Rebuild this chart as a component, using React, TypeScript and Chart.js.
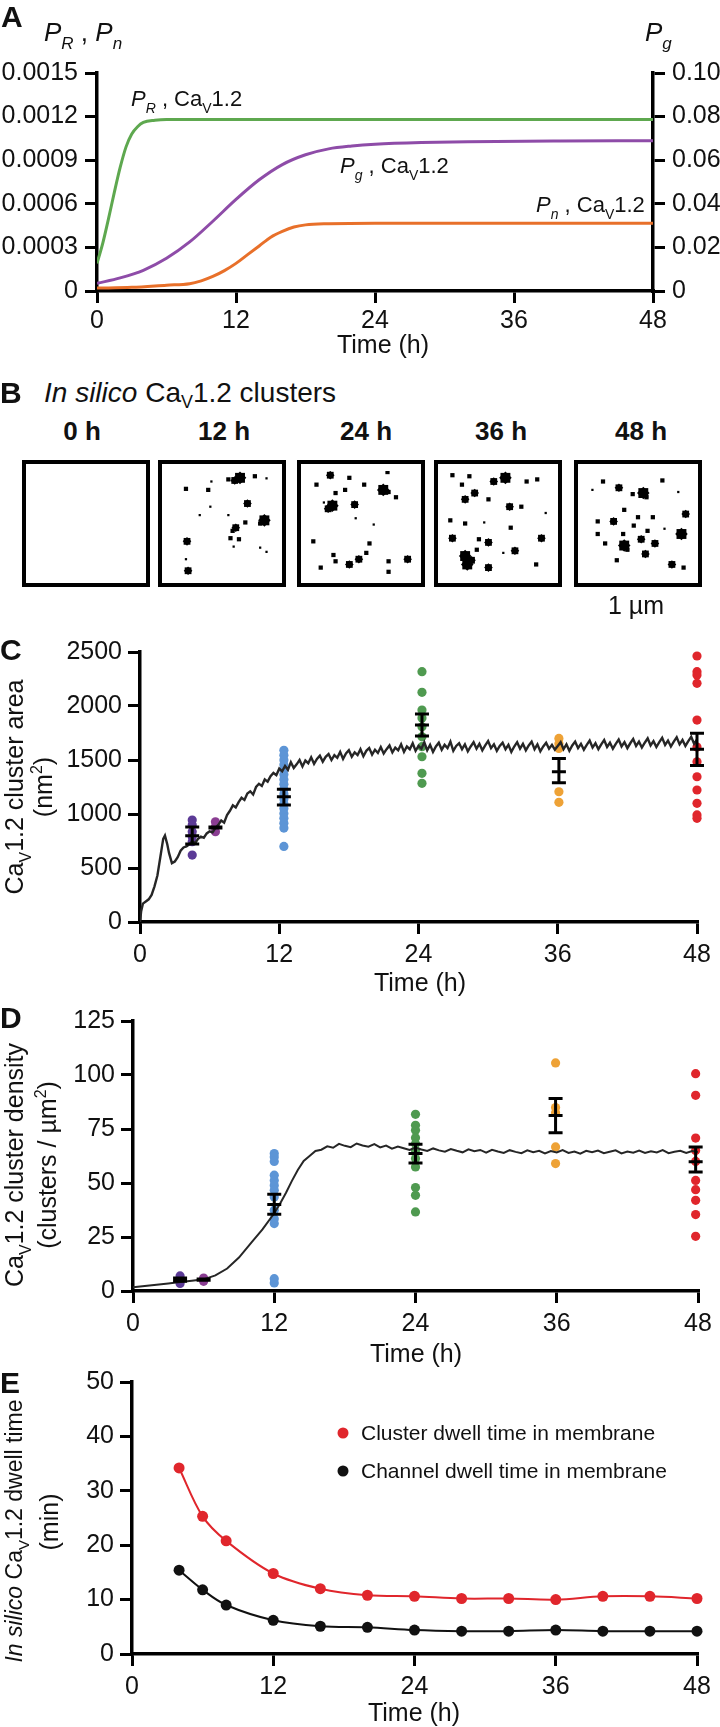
import React, { useEffect, useRef } from "react";
import { Chart, registerables } from "chart.js";
Chart.register(...registerables);

const FONT = "'Liberation Sans', Arial, Helvetica, sans-serif";
const INK = "#111";
Chart.defaults.font.family = FONT;
Chart.defaults.color = INK;

// ---------------- Panel A ----------------
const hourTicks = [0, 12, 24, 36, 48];
const aTicksLeft = [0, 0.0003, 0.0006, 0.0009, 0.0012, 0.0015];
const aTicksRight = [0, 0.02, 0.04, 0.06, 0.08, 0.1];
const aTimeR = [0, 0.5, 1, 1.5, 2, 2.5, 3, 3.5, 4, 5, 6, 8, 12, 24, 36, 48];
const aPR = [0.00019, 0.00033, 0.0005, 0.00068, 0.00085, 0.00099, 0.00108, 0.00113, 0.00116, 0.001175, 0.00118, 0.00118, 0.00118, 0.00118, 0.00118, 0.00118];
const aTimeG = [0, 2, 4, 6, 8, 10, 12, 14, 16, 18, 20, 22, 24, 28, 32, 40, 48];
const aPG = [0.0035, 0.006, 0.0095, 0.015, 0.0225, 0.032, 0.042, 0.051, 0.058, 0.0625, 0.0652, 0.0665, 0.0673, 0.0681, 0.0685, 0.0688, 0.0689];
const aTimeN = [0, 3, 6, 8, 9, 10, 11, 12, 13, 14, 15, 16, 17, 18, 20, 24, 48];
const aPN = [0.00002, 0.000025, 0.00004, 0.00005, 0.00007, 0.0001, 0.00014, 0.00019, 0.00025, 0.00031, 0.00037, 0.00041, 0.00044, 0.000455, 0.000463, 0.000467, 0.000467];

// ---------------- Panel B (cluster snapshots: [x, y, size class]) ----------------
const bLabels = ["0 h", "12 h", "24 h", "36 h", "48 h"];
const b0: number[][] = [];
const b12 = [[0.67,0.065,4],[0.62,0.09,3],[0.56,0.08,2],[0.81,0.05,2],[0.92,0.07,1],[0.16,0.17,2],[0.37,0.18,2],[0.39,0.34,1],[0.74,0.31,3],[0.9,0.47,4],[0.86,0.5,2],[0.63,0.54,3],[0.6,0.57,2],[0.72,0.49,2],[0.56,0.42,1],[0.29,0.42,1],[0.17,0.67,3],[0.58,0.64,2],[0.66,0.65,2],[0.61,0.72,1],[0.86,0.73,1],[0.92,0.77,1],[0.16,0.84,1],[0.18,0.95,3],[0.4,0.1,1]];
const b24 = [[0.21,0.04,3],[0.39,0.065,2],[0.08,0.13,2],[0.26,0.21,2],[0.35,0.18,2],[0.53,0.13,2],[0.71,0.18,4],[0.76,0.2,2],[0.83,0.25,2],[0.23,0.33,4],[0.19,0.36,3],[0.44,0.32,3],[0.62,0.51,1],[0.05,0.67,2],[0.58,0.69,2],[0.24,0.8,2],[0.26,0.86,2],[0.39,0.89,3],[0.48,0.84,3],[0.55,0.78,2],[0.76,0.86,2],[0.94,0.84,3],[0.76,0.96,2],[0.12,0.92,2],[0.75,0.01,2],[0.45,0.45,1],[0.15,0.3,1]];
const b36 = [[0.57,0.065,4],[0.46,0.1,3],[0.07,0.04,2],[0.23,0.05,2],[0.16,0.13,2],[0.28,0.21,3],[0.19,0.27,3],[0.41,0.27,2],[0.61,0.34,3],[0.72,0.34,2],[0.77,0.1,2],[0.87,0.08,2],[0.05,0.47,2],[0.19,0.5,2],[0.37,0.49,1],[0.62,0.54,2],[0.07,0.64,3],[0.32,0.65,2],[0.41,0.68,3],[0.91,0.64,3],[0.19,0.81,4],[0.21,0.89,4],[0.25,0.85,3],[0.66,0.76,3],[0.41,0.92,3],[0.86,0.89,2],[0.3,0.75,2],[0.55,0.78,1],[0.95,0.4,1]];
const b48 = [[0.32,0.16,3],[0.55,0.21,4],[0.58,0.25,2],[0.45,0.22,2],[0.73,0.09,2],[0.17,0.1,2],[0.07,0.18,1],[0.95,0.41,3],[0.27,0.48,3],[0.12,0.48,2],[0.37,0.37,2],[0.5,0.44,2],[0.64,0.44,2],[0.46,0.52,2],[0.36,0.6,2],[0.59,0.57,2],[0.12,0.6,2],[0.91,0.6,4],[0.37,0.71,4],[0.4,0.75,2],[0.53,0.65,3],[0.66,0.69,3],[0.57,0.79,3],[0.3,0.85,2],[0.82,0.89,3],[0.19,0.69,2],[0.75,0.55,1],[0.93,0.92,2],[0.88,0.2,1]];
const bSets = [b0, b12, b24, b36, b48];

// ---------------- Panel C ----------------
const cTicksY = [0, 500, 1000, 1500, 2000, 2500];
const cTime = [0,0.1,0.25,0.5,0.75,1,1.25,1.5,1.75,2,2.15,2.35,2.5,2.75,3,3.25,3.5,3.75,4,4.25,4.5,4.75,5,5.25,5.5,5.75,6,6.25,6.5,6.75,7,7.25,7.5,7.75,8,8.25,8.5,8.75,9,9.25,9.5,9.75,10,10.25,10.5,10.75,11,11.25,11.5,11.75,12,
  12.25,12.5,12.75,13,13.25,13.5,13.75,14,14.25,14.5,14.75,15,15.25,15.5,15.75,16,16.25,16.5,16.75,17,17.25,17.5,17.75,18,18.25,18.5,18.75,19,19.25,19.5,19.75,20,20.25,20.5,20.75,21,21.25,21.5,21.75,22,22.25,22.5,22.75,23,23.25,23.5,23.75,24,
  24.25,24.5,24.75,25,25.25,25.5,25.75,26,26.25,26.5,26.75,27,27.25,27.5,27.75,28,28.25,28.5,28.75,29,29.25,29.5,29.75,30,30.25,30.5,30.75,31,31.25,31.5,31.75,32,32.25,32.5,32.75,33,33.25,33.5,33.75,34,34.25,34.5,34.75,35,35.25,35.5,35.75,36,
  36.25,36.5,36.75,37,37.25,37.5,37.75,38,38.25,38.5,38.75,39,39.25,39.5,39.75,40,40.25,40.5,40.75,41,41.25,41.5,41.75,42,42.25,42.5,42.75,43,43.25,43.5,43.75,44,44.25,44.5,44.75,45,45.25,45.5,45.75,46,46.25,46.5,46.75,47,47.25,47.5,47.75,48];
const cArea = [0,100,170,190,210,250,330,430,600,770,800,720,640,545,560,600,660,690,700,720,745,730,770,790,780,820,840,830,870,900,940,920,990,1030,1080,1060,1110,1150,1130,1190,1210,1180,1250,1280,1260,1320,1300,1350,1380,1360,1420,
  1395,1445,1410,1480,1425,1460,1500,1440,1495,1470,1525,1465,1510,1540,1485,1530,1555,1500,1545,1520,1575,1510,1560,1590,1530,1570,1545,1600,1535,1585,1610,1550,1595,1565,1620,1560,1600,1635,1570,1615,1590,1645,1575,1625,1600,1655,1585,1630,
  1605,1665,1590,1640,1575,1625,1660,1595,1640,1610,1670,1585,1630,1655,1600,1645,1580,1625,1665,1605,1650,1590,1635,1675,1610,1645,1585,1630,1660,1600,1640,1575,1625,1665,1605,1650,1590,1635,1670,1600,1645,1580,1625,1660,1605,1640,1595,1630,
  1665,1600,1645,1585,1635,1670,1610,1650,1595,1640,1680,1615,1655,1600,1645,1685,1620,1660,1605,1650,1690,1625,1665,1610,1655,1695,1630,1670,1615,1660,1700,1635,1675,1620,1665,1705,1640,1680,1625,1670,1710,1645,1685,1630,1675,1715,1650,1690];
const groupColors = ["#5b3a96", "#8a3d92", "#5d95d6", "#4f9a50", "#eea236", "#e0262c"];
const cGroupX = [4.5, 6.5, 12.4, 24.3, 36.1, 48];
const cGroupVals = [
  [944, 898, 836, 790, 744, 620],
  [928, 882, 836],
  [1590, 1545, 1500, 1455, 1410, 1365, 1320, 1275, 1230, 1185, 1140, 1095, 1050, 1005, 960, 915, 870, 700],
  [2318, 2127, 1963, 1889, 1808, 1715, 1623, 1530, 1377, 1284],
  [1700, 1650, 1607, 1206, 1108],
  [2463, 2318, 2287, 2210, 1870, 1620, 1484, 1345, 1222, 1099, 991, 960],
];
const cMean = [798, 875, 1160, 1824, 1391, 1600];
const cLo = [722, 870, 1083, 1722, 1290, 1450];
const cHi = [880, 880, 1230, 1926, 1515, 1747];

// ---------------- Panel D ----------------
const dTicksY = [0, 25, 50, 75, 100, 125];
const dTime = [0,1,2,3,4,5,6,7,8,9,10,11,12,12.5,13,13.5,14,14.5,15,15.5,16,16.5,17,17.5,18,18.5,19,19.5,20,20.5,21,21.5,22,22.5,23,23.5,24,24.5,25,25.5,26,26.5,27,27.5,28,28.5,29,29.5,30,30.5,31,31.5,32,32.5,33,33.5,34,34.5,35,35.5,36,36.5,37,37.5,38,38.5,39,39.5,40,40.5,41,41.5,42,42.5,43,43.5,44,44.5,45,45.5,46,46.5,47,47.5,48];
const dDensity = [1.7,2.3,2.9,3.5,4.2,4.8,5.4,7.2,10.4,15.5,22,28.5,36,40.5,45.5,51,56,60.2,62.5,64.8,65.4,67,66.3,68.1,67.2,66.6,68.3,67.4,66.8,68,66.5,67.3,65.9,66.9,66.1,65.3,66.4,65.5,64.8,66,65.1,64.5,65.7,64.9,64.2,65.6,64.7,65.3,64.1,65.4,64.6,63.9,65.2,64.4,63.8,65.1,64.3,64.9,63.7,64.8,64.1,65.2,63.9,64.6,63.6,64.9,64.2,65,63.8,64.5,65.1,63.7,64.6,64,65,63.9,64.7,64.1,65.2,63.8,64.5,64.9,63.9,64.8,64.3];
const dGroupX = [4, 6, 12, 24, 35.9, 47.8];
const dGroupVals = [
  [7, 5, 3.5],
  [6, 4.5],
  [63.6, 62, 60, 53.6, 51.2, 48.9, 46.6, 43.5, 37.4, 33.5, 31.2, 5.7, 3.7],
  [81.8, 76.7, 74.4, 71, 68.2, 65.1, 61.3, 57.4, 47.9, 44.3, 36.6],
  [105.6, 84.9, 82.5, 66.7, 59],
  [100.6, 90.6, 70.8, 65, 60, 51.2, 46.9, 42, 35.4, 25.3],
];
const dMean = [5.3, 5.3, 40.1, 63.6, 81.3, 59.8];
const dLo = [4.5, 5.0, 35.5, 59.3, 73.3, 55.1];
const dHi = [6.0, 5.6, 44.8, 67.9, 89.1, 66.7];

// ---------------- Panel E ----------------
const eTicksY = [0, 10, 20, 30, 40, 50];
const eTime = [4, 6, 8, 12, 16, 20, 24, 28, 32, 36, 40, 44, 48];
const eCluster = [34.2, 25.3, 20.8, 14.8, 12.0, 10.8, 10.6, 10.2, 10.2, 10.0, 10.6, 10.6, 10.2];
const eChannel = [15.4, 11.8, 9.0, 6.2, 5.1, 4.9, 4.4, 4.2, 4.2, 4.4, 4.2, 4.2, 4.2];
const eLabels = ["Cluster dwell time in membrane", "Channel dwell time in membrane"];

// ---------------- helpers ----------------
const TICK_FONT = 25;
const pts = (xs: number[], ys: number[]) => xs.map((x, i) => ({ x, y: ys[i] }));

type Seg = { t: string; it?: boolean; sub?: boolean; sup?: boolean; b?: boolean };
type RT = { x: number; y: number; rot?: number; align?: "left" | "center" | "right"; size: number; segs: Seg[] };

function richText(items: RT[]) {
  return {
    id: "richText",
    afterDraw(chart: any) {
      const ctx = chart.ctx as CanvasRenderingContext2D;
      for (const it of items) {
        const fontOf = (s: Seg) =>
          `${s.it ? "italic " : ""}${s.b ? "bold " : ""}${s.sub || s.sup ? Math.round(it.size * 0.64) : it.size}px ${FONT}`;
        ctx.save();
        let total = 0;
        const widths = it.segs.map((s) => {
          ctx.font = fontOf(s);
          const w = ctx.measureText(s.t).width;
          total += w;
          return w;
        });
        ctx.translate(it.x, it.y);
        if (it.rot) ctx.rotate((it.rot * Math.PI) / 180);
        let x0 = it.align === "left" ? 0 : it.align === "right" ? -total : -total / 2;
        ctx.textBaseline = "alphabetic";
        ctx.textAlign = "left";
        ctx.fillStyle = INK;
        const base = it.size * 0.36;
        it.segs.forEach((s, i) => {
          ctx.font = fontOf(s);
          const dy = s.sub ? it.size * 0.3 : s.sup ? -it.size * 0.4 : 0;
          ctx.fillText(s.t, x0, base + dy);
          x0 += widths[i];
        });
        ctx.restore();
      }
    },
  };
}

function errBars(xs: number[], mean: number[], lo: number[], hi: number[]) {
  return {
    id: "errBars",
    afterDatasetsDraw(chart: any) {
      const ctx = chart.ctx as CanvasRenderingContext2D;
      const sx = chart.scales.x;
      const sy = chart.scales.y;
      ctx.save();
      ctx.strokeStyle = "#000";
      ctx.lineWidth = 3;
      xs.forEach((x, i) => {
        const px = sx.getPixelForValue(x);
        const pm = sy.getPixelForValue(mean[i]);
        const pl = sy.getPixelForValue(lo[i]);
        const ph = sy.getPixelForValue(hi[i]);
        const hw = 7;
        ctx.beginPath();
        ctx.moveTo(px, ph);
        ctx.lineTo(px, pl);
        ctx.moveTo(px - hw, ph);
        ctx.lineTo(px + hw, ph);
        ctx.moveTo(px - hw, pl);
        ctx.lineTo(px + hw, pl);
        ctx.moveTo(px - hw, pm);
        ctx.lineTo(px + hw, pm);
        ctx.stroke();
      });
      ctx.restore();
    },
  };
}

function dotLegend(x: number, y0: number, dy: number, size: number) {
  return {
    id: "dotLegend",
    afterDraw(chart: any) {
      const ctx = chart.ctx as CanvasRenderingContext2D;
      ctx.save();
      chart.data.datasets.forEach((ds: any, i: number) => {
        const y = y0 + i * dy;
        ctx.fillStyle = ds.backgroundColor;
        ctx.beginPath();
        ctx.arc(x, y, 5.5, 0, Math.PI * 2);
        ctx.fill();
        ctx.fillStyle = INK;
        ctx.font = `${size}px ${FONT}`;
        ctx.textBaseline = "middle";
        ctx.textAlign = "left";
        ctx.fillText(ds.label, x + 18, y + 1);
      });
      ctx.restore();
    },
  };
}

function axis(o: { min: number; max: number; ticks: number[]; fmt?: (v: number) => string; position?: string; width?: number; height?: number; pad?: number }) {
  const a: any = {
    type: "linear",
    position: o.position,
    min: o.min,
    max: o.max,
    afterBuildTicks: (s: any) => {
      s.ticks = o.ticks.map((v) => ({ value: v }));
    },
    border: { display: true, color: "#000", width: 3.5 },
    grid: { display: true, drawOnChartArea: false, drawTicks: true, tickLength: 12, tickWidth: 3, tickColor: "#000", lineWidth: 3, color: "#000" },
    ticks: {
      color: INK,
      font: { family: FONT, size: TICK_FONT },
      padding: o.pad ?? 6,
      autoSkip: false,
      maxRotation: 0,
      callback: (v: any) => (o.fmt ? o.fmt(Number(v)) : String(v)),
    },
  };
  if (o.width != null) a.afterFit = (s: any) => { s.width = o.width; };
  if (o.height != null) a.afterFit = (s: any) => { s.height = o.height; };
  return a;
}

const base: any = {
  animation: false,
  responsive: false,
  events: [],
  plugins: { legend: { display: false }, tooltip: { enabled: false } },
};

const CaV = (pre: string, post: string): Seg[] => [{ t: pre + "Ca" }, { t: "V", sub: true }, { t: "1.2" + post }];

function useChart(ref: React.RefObject<HTMLCanvasElement>, make: () => any) {
  useEffect(() => {
    if (!ref.current) return;
    const ch = new Chart(ref.current, make());
    return () => ch.destroy();
  }, []);
}

function PanelA() {
  const ref = useRef<HTMLCanvasElement>(null);
  useChart(ref, () => ({
    type: "scatter",
    data: {
      datasets: [
        { label: "PR", data: pts(aTimeR, aPR), yAxisID: "y", showLine: true, borderColor: "#5ea84f", borderWidth: 3, pointRadius: 0, cubicInterpolationMode: "monotone" },
        { label: "Pg", data: pts(aTimeG, aPG), yAxisID: "y2", showLine: true, borderColor: "#8e4ca8", borderWidth: 3, pointRadius: 0, cubicInterpolationMode: "monotone" },
        { label: "Pn", data: pts(aTimeN, aPN), yAxisID: "y", showLine: true, borderColor: "#e8702a", borderWidth: 3, pointRadius: 0, cubicInterpolationMode: "monotone" },
      ],
    },
    options: {
      ...base,
      layout: { padding: { top: 73, right: 0, bottom: 0, left: 0 } },
      scales: {
        x: axis({ min: 0, max: 48, ticks: hourTicks, height: 69, pad: 3 }),
        y: axis({ min: 0, max: 0.0015, ticks: aTicksLeft, position: "left", width: 97, pad: 7, fmt: (v) => (v === 0 ? "0" : v.toFixed(4)) }),
        y2: axis({ min: 0, max: 0.1, ticks: aTicksRight, position: "right", width: 67, pad: 7, fmt: (v) => (v === 0 ? "0" : v.toFixed(2)) }),
      },
    },
    plugins: [
      richText([
        { x: 44, y: 32, size: 26, align: "left", segs: [{ t: "P", it: true }, { t: "R", it: true, sub: true }, { t: " , " }, { t: "P", it: true }, { t: "n", it: true, sub: true }] },
        { x: 645, y: 32, size: 26, align: "left", segs: [{ t: "P", it: true }, { t: "g", it: true, sub: true }] },
        { x: 131, y: 98, size: 22, align: "left", segs: [{ t: "P", it: true }, { t: "R", it: true, sub: true }, ...CaV(" , ", "")] },
        { x: 340, y: 165, size: 22, align: "left", segs: [{ t: "P", it: true }, { t: "g", it: true, sub: true }, ...CaV(" , ", "")] },
        { x: 536, y: 204, size: 22, align: "left", segs: [{ t: "P", it: true }, { t: "n", it: true, sub: true }, ...CaV(" , ", "")] },
        { x: 383, y: 344, size: 25, segs: [{ t: "Time (h)" }] },
      ]),
    ],
  }));
  return <canvas ref={ref} width={720} height={360} style={{ position: "absolute", left: 0, top: 0 }} />;
}

function BlobBox({ blobs, left }: { blobs: number[][]; left: number }) {
  const ref = useRef<HTMLCanvasElement>(null);
  const radii = [0, 1.6, 3, 4.8, 7];
  useEffect(() => {
    if (!ref.current || !blobs.length) return;
    const ch = new Chart(ref.current, {
      type: "scatter",
      data: {
        datasets: [
          {
            data: blobs.map((b) => ({ x: b[0], y: b[1] })),
            pointRadius: blobs.map((b) => radii[b[2]]),
            pointStyle: "rect",
            backgroundColor: "#000",
            borderColor: "#000",
            borderWidth: 0,
          },
          {
            data: blobs.filter((b) => b[2] >= 3).map((b) => ({ x: b[0], y: b[1] })),
            pointRadius: blobs.filter((b) => b[2] >= 3).map((b) => radii[b[2]] * 0.9),
            pointStyle: "rectRot",
            backgroundColor: "#000",
            borderColor: "#000",
            borderWidth: 0,
          },
        ],
      },
      options: {
        ...base,
        layout: { padding: 0 },
        scales: { x: { display: false, min: 0, max: 1 }, y: { display: false, min: 0, max: 1, reverse: true } },
      },
    } as any);
    return () => ch.destroy();
  }, []);
  return (
    <div style={{ position: "absolute", left, top: 460, width: 128, height: 127, border: "4px solid #000", boxSizing: "border-box", background: "#fff" }}>
      <canvas ref={ref} width={120} height={119} style={{ display: "block" }} />
    </div>
  );
}

function groupDatasets(xs: number[], vals: number[][]) {
  return xs.map((x, i) => ({
    data: vals[i].map((v) => ({ x, y: v })),
    backgroundColor: groupColors[i],
    borderWidth: 0,
    pointRadius: 4.6,
    clip: false,
  }));
}

function PanelC() {
  const ref = useRef<HTMLCanvasElement>(null);
  useChart(ref, () => ({
    type: "scatter",
    data: {
      datasets: [
        { data: pts(cTime, cArea), showLine: true, borderColor: "#262626", borderWidth: 2.4, pointRadius: 0 },
        ...groupDatasets(cGroupX, cGroupVals),
      ],
    },
    options: {
      ...base,
      layout: { padding: { top: 52, right: 23, bottom: 0, left: 0 } },
      scales: {
        x: axis({ min: 0, max: 48, ticks: hourTicks, height: 78 }),
        y: axis({ min: 0, max: 2500, ticks: cTicksY, position: "left", width: 140 }),
      },
    },
    plugins: [
      errBars(cGroupX, cMean, cLo, cHi),
      richText([
        { x: 14, y: 187, rot: -90, size: 25, segs: CaV("", " cluster area") },
        { x: 43, y: 187, rot: -90, size: 25, segs: [{ t: "(nm" }, { t: "2", sup: true }, { t: ")" }] },
        { x: 420, y: 382, size: 25, segs: [{ t: "Time (h)" }] },
      ]),
    ],
  }));
  return <canvas ref={ref} width={720} height={400} style={{ position: "absolute", left: 0, top: 600 }} />;
}

function PanelD() {
  const ref = useRef<HTMLCanvasElement>(null);
  useChart(ref, () => ({
    type: "scatter",
    data: {
      datasets: [
        { data: pts(dTime, dDensity), showLine: true, borderColor: "#262626", borderWidth: 2, pointRadius: 0 },
        ...groupDatasets(dGroupX, dGroupVals),
      ],
    },
    options: {
      ...base,
      layout: { padding: { top: 20, right: 22, bottom: 0, left: 0 } },
      scales: {
        x: axis({ min: 0, max: 48, ticks: hourTicks, height: 79 }),
        y: axis({ min: 0, max: 125, ticks: dTicksY, position: "left", width: 133 }),
      },
    },
    plugins: [
      errBars(dGroupX, dMean, dLo, dHi),
      richText([
        { x: 14, y: 165, rot: -90, size: 25, segs: CaV("", " cluster density") },
        { x: 47, y: 165, rot: -90, size: 25, segs: [{ t: "(clusters / µm" }, { t: "2", sup: true }, { t: ")" }] },
        { x: 416, y: 353, size: 25, segs: [{ t: "Time (h)" }] },
      ]),
    ],
  }));
  return <canvas ref={ref} width={720} height={370} style={{ position: "absolute", left: 0, top: 1000 }} />;
}

function PanelE() {
  const ref = useRef<HTMLCanvasElement>(null);
  useChart(ref, () => ({
    type: "scatter",
    data: {
      datasets: [
        { label: eLabels[0], data: pts(eTime, eCluster), showLine: true, borderColor: "#e0262c", backgroundColor: "#e0262c", borderWidth: 2, pointRadius: 5.5, pointBorderWidth: 0, tension: 0.35, clip: false },
        { label: eLabels[1], data: pts(eTime, eChannel), showLine: true, borderColor: "#111", backgroundColor: "#111", borderWidth: 2, pointRadius: 5.5, pointBorderWidth: 0, tension: 0.35, clip: false },
      ],
    },
    options: {
      ...base,
      layout: { padding: { top: 22, right: 23, bottom: 0, left: 0 } },
      scales: {
        x: axis({ min: 0, max: 48, ticks: hourTicks, height: 73 }),
        y: axis({ min: 0, max: 50, ticks: eTicksY, position: "left", width: 132 }),
      },
    },
    plugins: [
      dotLegend(343, 73, 38, 21),
      richText([
        { x: 14, y: 171, rot: -90, size: 23, segs: [{ t: "In silico", it: true }, ...CaV(" ", " dwell time")] },
        { x: 49, y: 162, rot: -90, size: 25, segs: [{ t: "(min)" }] },
        { x: 414, y: 352, size: 25, segs: [{ t: "Time (h)" }] },
      ]),
    ],
  }));
  return <canvas ref={ref} width={720} height={367} style={{ position: "absolute", left: 0, top: 1360 }} />;
}

function Txt({ x, cy, size, bold, center, children }: { x: number; cy: number; size: number; bold?: boolean; center?: boolean; children: React.ReactNode }) {
  return (
    <div
      style={{
        position: "absolute",
        left: x,
        top: cy - size * 0.6,
        height: size * 1.2,
        lineHeight: `${size * 1.2}px`,
        fontSize: size,
        fontWeight: bold ? 700 : 400,
        fontFamily: FONT,
        color: INK,
        whiteSpace: "nowrap",
        transform: center ? "translateX(-50%)" : undefined,
      }}
    >
      {children}
    </div>
  );
}

const SubV = () => <span style={{ fontSize: "0.64em", position: "relative", top: "0.35em" }}>V</span>;

export default function App() {
  const boxLefts = [22, 158, 297, 434, 574];
  const labelCenters = [82, 224, 366, 501, 641];
  return (
    <div style={{ position: "absolute", left: 0, top: 0, width: 720, height: 1727, background: "#fff", overflow: "hidden" }}>
      <PanelA />
      <PanelC />
      <PanelD />
      <PanelE />
      {bSets.map((s, i) => (
        <BlobBox key={i} blobs={s} left={boxLefts[i]} />
      ))}
      {bLabels.map((l, i) => (
        <Txt key={l} x={labelCenters[i]} cy={432} size={26} bold center>
          {l}
        </Txt>
      ))}
      <Txt x={44} cy={393} size={28}>
        <i>In silico</i> Ca<SubV />1.2 clusters
      </Txt>
      <Txt x={636} cy={605} size={25} center>
        1 µm
      </Txt>
      <Txt x={1} cy={17} size={30} bold>A</Txt>
      <Txt x={0} cy={393} size={30} bold>B</Txt>
      <Txt x={0} cy={650} size={30} bold>C</Txt>
      <Txt x={0} cy={1018} size={30} bold>D</Txt>
      <Txt x={0} cy={1383} size={30} bold>E</Txt>
    </div>
  );
}
